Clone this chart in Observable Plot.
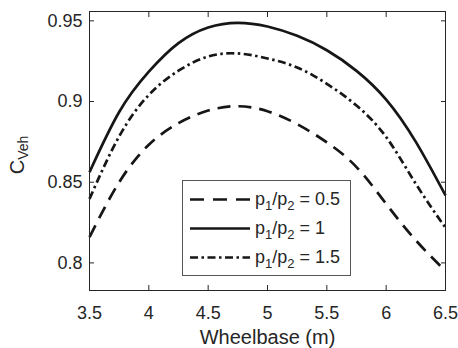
<!DOCTYPE html>
<html><head><meta charset="utf-8">
<script src="https://cdn.jsdelivr.net/npm/d3@7"></script>
<script src="https://cdn.jsdelivr.net/npm/@observablehq/plot@0.6"></script>
<style>
html,body{margin:0;padding:0;background:#fff;}
#chart{width:458px;height:348px;position:relative;}
</style></head><body><div id="chart"></div>
<script>
// Data
const wheelbase = [3.5, 3.75, 4.0, 4.25, 4.5, 4.75, 5.0, 5.25, 5.5, 5.75, 6.0, 6.25, 6.5];
const cvehRatio05 = [0.816, 0.850, 0.8732, 0.8866, 0.8944, 0.8971, 0.894, 0.886, 0.8747, 0.8594, 0.8366, 0.814, 0.795];
const cvehRatio1  = [0.8562, 0.8935, 0.9185, 0.9362, 0.9459, 0.9488, 0.9465, 0.9407, 0.9318, 0.919, 0.9012, 0.875, 0.8418];
const cvehRatio15 = [0.8397, 0.8784, 0.9041, 0.9191, 0.9279, 0.9298, 0.9267, 0.9211, 0.911, 0.8975, 0.878, 0.849, 0.8218];
const ratioLabels = ["0.5", "1", "1.5"];
const xTicks = [3.5, 4, 4.5, 5, 5.5, 6, 6.5];
const yTicks = [0.8, 0.85, 0.9, 0.95];
const xLabel = "Wheelbase (m)";

const seriesValues = [cvehRatio05, cvehRatio1, cvehRatio15];
const dashes = ["13,8", null, "8,3.5,2.5,3.5"];
const legendDashes = ["14,9", null, "8,3.5,2.5,3.5"];
const rows = seriesValues.map(arr => arr.map((v, j) => ({x: wheelbase[j], y: v})));

const ink = "#262626";
const lineInk = "#161616";
const font = "'Liberation Sans', Arial, Helvetica, sans-serif";
const fmt = d3.format("~g");

const plot = Plot.plot({
  width: 458, height: 348,
  marginLeft: 89, marginRight: 13, marginTop: 11, marginBottom: 58,
  style: {fontFamily: font, fontSize: "18px", color: ink, background: "#fff", overflow: "visible"},
  x: {domain: [3.5, 6.5]},
  y: {domain: [0.7829, 0.9558]},
  marks: [
    ...rows.map((r, i) => Plot.line(r, {x: "x", y: "y", stroke: lineInk, strokeWidth: 2.7, strokeDasharray: dashes[i], strokeLinecap: "butt", curve: "natural"})),
    Plot.frame({stroke: ink, strokeWidth: 1}),
    Plot.axisX({ticks: xTicks, tickSize: -5, tickPadding: 21, tickFormat: fmt, label: null, fontSize: 18, stroke: ink, fill: ink}),
    Plot.axisX({anchor: "top", ticks: xTicks, tickSize: -5, tickFormat: () => "", label: null, stroke: ink}),
    Plot.axisY({ticks: yTicks, tickSize: -5, tickPadding: 12, tickFormat: fmt, label: null, fontSize: 18, stroke: ink, fill: ink}),
    Plot.axisY({anchor: "right", ticks: yTicks, tickSize: -5, tickFormat: () => "", label: null, stroke: ink}),
    Plot.text([xLabel], {frameAnchor: "bottom", lineAnchor: "middle", dy: 47, fontSize: 20, fill: ink})
  ]
});
document.getElementById("chart").appendChild(plot);

// y-axis label with subscript
const svg = d3.select(plot);
const yl = svg.append("text")
  .attr("transform", "translate(24,155) rotate(-90)")
  .attr("text-anchor", "middle")
  .attr("fill", ink)
  .style("font-family", font);
yl.append("tspan").attr("font-size", 20).text("C");
yl.append("tspan").attr("font-size", 14).attr("dy", 4).text("Veh");

// legend
const lg = svg.append("g");
lg.append("rect").attr("x", 182.5).attr("y", 180.5).attr("width", 168).attr("height", 95)
  .attr("fill", "#fff").attr("stroke", "#555").attr("stroke-width", 1);
const rowY = [199.5, 228.5, 257.5];
ratioLabels.forEach((lab, i) => {
  lg.append("line").attr("x1", 190).attr("x2", 250).attr("y1", rowY[i]).attr("y2", rowY[i])
    .attr("stroke", lineInk).attr("stroke-width", 2.7)
    .attr("stroke-dasharray", legendDashes[i]);
  const t = lg.append("text").attr("x", 255).attr("y", rowY[i] + 5).attr("fill", ink)
    .attr("text-anchor", "start")
    .style("font-family", font).attr("font-size", 18);
  t.append("tspan").text("p");
  t.append("tspan").attr("font-size", 13).attr("dy", 5).text("1");
  t.append("tspan").attr("dy", -5).text("/p");
  t.append("tspan").attr("font-size", 13).attr("dy", 5).text("2");
  t.append("tspan").attr("dy", -5).text(" = " + lab);
});
</script></body></html>
